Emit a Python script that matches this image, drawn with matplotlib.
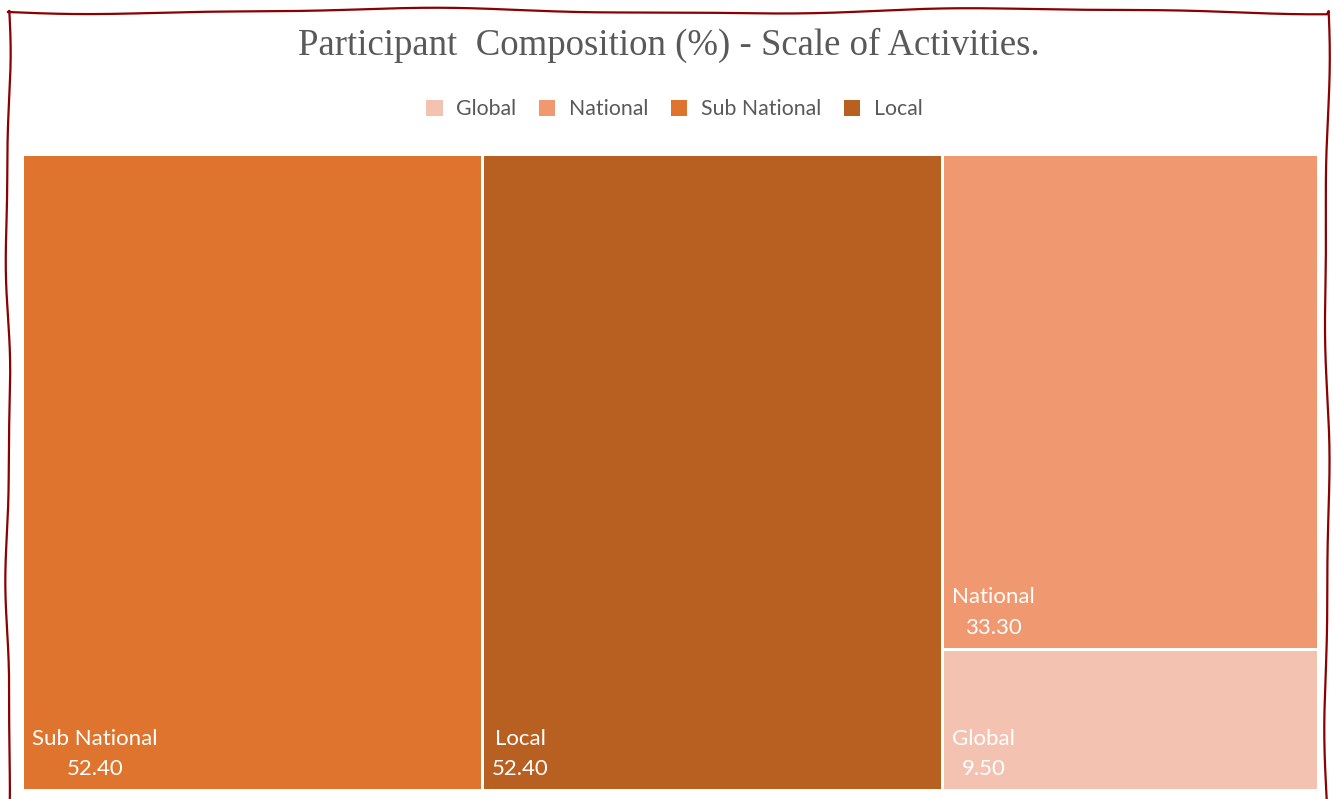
import numpy as np
import matplotlib.pyplot as plt
from matplotlib.patches import Rectangle, Patch

# data
categories = ["Sub National", "Local", "National", "Global"]
values = [52.40, 52.40, 33.30, 9.50]
colors = ["#DE742E", "#B86022", "#F09870", "#F4C2B1"]
legend_order = ["Global", "National", "Sub National", "Local"]
title = "Participant  Composition (%) - Scale of Activities."

W, H = 1333, 799
fig = plt.figure(figsize=(W / 100, H / 100), dpi=100)
ax = fig.add_axes([0, 0, 1, 1])
ax.set_xlim(0, W)
ax.set_ylim(H, 0)
ax.axis("off")


def worst(row, side):
    s = sum(row)
    return max(max(side * side * r / (s * s), s * s / (side * side * r)) for r in row)


def squarify(vals, x, y, w, h):
    # simple squarified treemap, vals already sorted descending
    total = sum(vals)
    areas = [v * w * h / total for v in vals]
    rects = []
    while areas:
        side = min(w, h)
        row = [areas[0]]
        i = 1
        while i < len(areas) and worst(row + [areas[i]], side) <= worst(row, side):
            row.append(areas[i])
            i += 1
        s = sum(row)
        if w >= h:  # column on the left
            cw = s / h
            yy = y
            for a in row:
                rects.append((x, yy, cw, a / cw))
                yy += a / cw
            x += cw
            w -= cw
        else:  # row on top
            rh = s / w
            xx = x
            for a in row:
                rects.append((xx, y, a / rh, rh))
                xx += a / rh
            y += rh
            h -= rh
        areas = areas[i:]
    return rects


x0, y0, x1, y1 = 22.5, 154.5, 1318.5, 790.5
rects = squarify(values, x0, y0, x1 - x0, y1 - y0)
gap = 1.5
label_font = ["Lato", "DejaVu Sans"]
for (rx, ry, rw, rh), name, val, col in zip(rects, categories, values, colors):
    ax.add_patch(Rectangle((rx + gap, ry + gap), rw - 2 * gap, rh - 2 * gap,
                           facecolor=col, edgecolor="none"))
    ax.text(rx + gap + 8, ry + rh - gap - 10, f"{name}\n{val:.2f}",
            ha="left", va="bottom", multialignment="center",
            color="white", fontsize=16, family=label_font, linespacing=1.65)

# title
ax.text(669, 45, title, ha="center", va="center", fontsize=26.5,
        family="Liberation Serif", color="#595959")

# legend
handles = [Patch(facecolor=colors[categories.index(c)], edgecolor="none", label=c)
           for c in legend_order]
leg = ax.legend(handles=handles, loc="center", bbox_to_anchor=(0.506, 1 - 109 / H),
                ncol=4, frameon=False, handlelength=0.78, handleheight=0.78,
                handletextpad=0.65, columnspacing=1.05,
                prop={"family": label_font, "size": 15.3})
for t in leg.get_texts():
    t.set_color("#595959")

# hand-drawn style border
t = np.linspace(0, 1, 400)
top_y = 11 + 2.5 * np.sin(2 * np.pi * 2.2 * t + 0.4) + 0.8 * np.sin(2 * np.pi * 5.3 * t)
right_x = 1327 + 2.0 * np.sin(2 * np.pi * 1.8 * t + 1.0) + 0.8 * np.sin(2 * np.pi * 4.1 * t)
bot_y = 805 + 1.5 * np.sin(2 * np.pi * 2.1 * t + 2.0)
left_x = 8 + 2.0 * np.sin(2 * np.pi * 2.3 * t + 0.7) + 0.7 * np.sin(2 * np.pi * 5.2 * t)
bx = np.concatenate([8 + t * 1319, right_x, 1327 - t * 1319, left_x[::-1]])
by = np.concatenate([top_y, 11 + t * 794, bot_y, 11 + t[::-1] * 794])
ax.plot(bx, by, color="#8B0000", lw=1.6, solid_joinstyle="round", clip_on=False)

fig.savefig("out.png", dpi=100)
